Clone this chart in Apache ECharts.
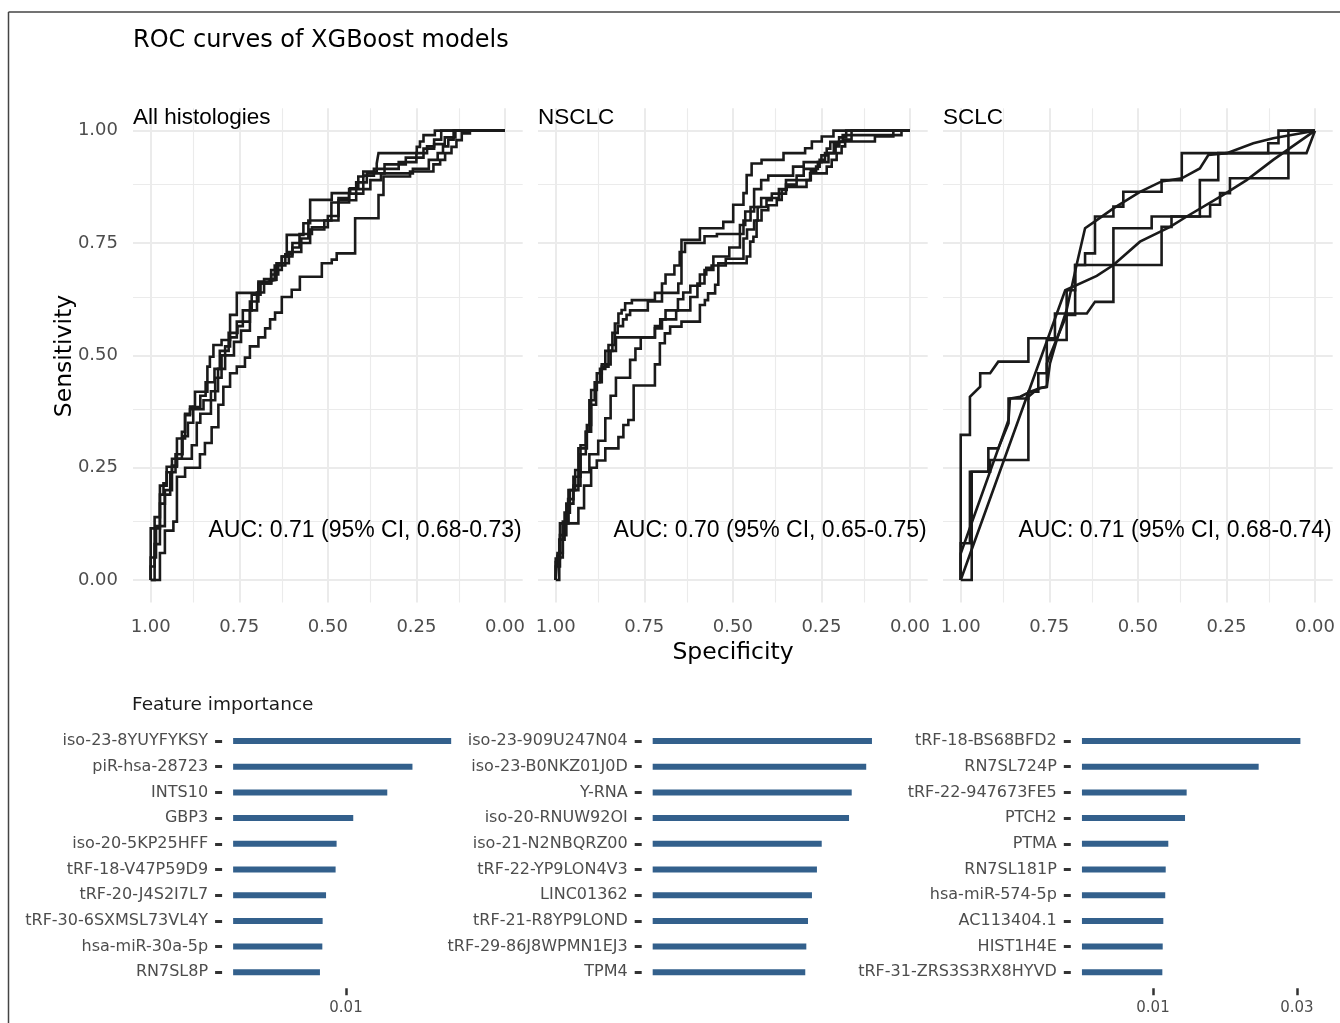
<!DOCTYPE html>
<html><head><meta charset="utf-8">
<script src="https://cdn.jsdelivr.net/npm/echarts@6/dist/echarts.min.js"></script>
<style>html,body{margin:0;padding:0;background:#fff}#c{width:1340px;height:1023px}</style>
</head><body><div id="c"></div>
<script>
// ---------------- DATA ----------------
// ROC axis ticks
const rocTickValues = [0, 0.25, 0.5, 0.75, 1];
const rocMinorValues = [0.125, 0.375, 0.625, 0.875];
const panelNames = ['All histologies', 'NSCLC', 'SCLC'];
const aucLabels = ['AUC: 0.71 (95% CI, 0.68-0.73)', 'AUC: 0.70 (95% CI, 0.65-0.75)', 'AUC: 0.71 (95% CI, 0.68-0.74)'];

// ROC curves: [specificity, sensitivity]
const allCurve1 = [[1,0],[1,.115],[.974,.115],[.974,.19],[.964,.19],[.964,.215],[.955,.215],[.955,.252],[.926,.252],[.926,.315],[.912,.315],[.912,.33],[.903,.33],[.903,.367],[.889,.367],[.889,.386],[.875,.386],[.875,.419],[.84,.419],[.84,.475],[.833,.475],[.833,.497],[.823,.497],[.823,.523],[.8,.523],[.8,.534],[.776,.534],[.776,.59],[.757,.59],[.757,.639],[.696,.639],[.696,.664],[.673,.664],[.673,.668],[.645,.668],[.645,.705],[.63,.705],[.63,.72],[.616,.72],[.616,.768],[.569,.768],[.569,.794],[.55,.794],[.55,.846],[.489,.846],[.489,.861],[.437,.861],[.437,.872],[.414,.872],[.414,.898],[.4,.898],[.4,.909],[.362,.909],[.362,.927],[.357,.927],[.357,.95],[.249,.95],[.249,.964],[.24,.964],[.24,.976],[.23,.976],[.23,.99],[.198,.99],[.198,1],[0,1]];
const allCurve2 = [[1,0],[1,.03],[.989,.03],[.989,.14],[.974,.14],[.974,.21],[.955,.21],[.955,.24],[.94,.24],[.94,.27],[.912,.27],[.912,.315],[.903,.315],[.903,.37],[.889,.37],[.889,.38],[.851,.38],[.851,.4],[.818,.4],[.818,.45],[.8,.45],[.8,.5],[.79,.5],[.79,.52],[.776,.52],[.776,.54],[.757,.54],[.757,.575],[.72,.575],[.72,.62],[.696,.62],[.696,.66],[.66,.66],[.66,.69],[.63,.69],[.63,.72],[.6,.72],[.6,.75],[.55,.75],[.55,.78],[.51,.78],[.51,.8],[.47,.8],[.47,.845],[.42,.845],[.42,.885],[.39,.885],[.39,.905],[.34,.905],[.34,.925],[.28,.925],[.28,.94],[.23,.94],[.23,.96],[.2,.96],[.2,.97],[.17,.97],[.17,.985],[.14,.985],[.14,1],[0,1]];
const allCurve3 = [[1,0],[.989,0],[.989,.08],[.974,.08],[.974,.17],[.96,.17],[.96,.2],[.94,.2],[.94,.255],[.926,.255],[.926,.27],[.884,.27],[.884,.3],[.87,.3],[.87,.35],[.86,.35],[.86,.37],[.83,.37],[.83,.42],[.81,.42],[.81,.47],[.79,.47],[.79,.5],[.765,.5],[.765,.53],[.745,.53],[.745,.555],[.72,.555],[.72,.6],[.7,.6],[.7,.64],[.68,.64],[.68,.67],[.65,.67],[.65,.7],[.62,.7],[.62,.725],[.6,.725],[.6,.74],[.58,.74],[.58,.77],[.545,.77],[.545,.785],[.5,.785],[.5,.81],[.47,.81],[.47,.85],[.44,.85],[.44,.87],[.38,.87],[.38,.89],[.35,.89],[.35,.905],[.26,.905],[.26,.915],[.215,.915],[.215,.935],[.19,.935],[.19,.95],[.175,.95],[.175,.965],[.16,.965],[.16,.98],[.145,.98],[.145,1],[0,1]];
const allCurve4 = [[1,0],[1,.05],[.985,.05],[.985,.12],[.96,.12],[.96,.19],[.945,.19],[.945,.24],[.93,.24],[.93,.28],[.91,.28],[.91,.32],[.895,.32],[.895,.35],[.88,.35],[.88,.385],[.86,.385],[.86,.41],[.845,.41],[.845,.44],[.82,.44],[.82,.47],[.805,.47],[.805,.51],[.78,.51],[.78,.55],[.755,.55],[.755,.565],[.74,.565],[.74,.6],[.715,.6],[.715,.635],[.69,.635],[.69,.66],[.66,.66],[.66,.68],[.64,.68],[.64,.705],[.61,.705],[.61,.73],[.575,.73],[.575,.76],[.555,.76],[.555,.8],[.49,.8],[.49,.84],[.44,.84],[.44,.86],[.4,.86],[.4,.9],[.37,.9],[.37,.915],[.3,.915],[.3,.93],[.25,.93],[.25,.95],[.22,.95],[.22,.965],[.2,.965],[.2,.98],[.18,.98],[.18,1],[0,1]];
const allCurve5 = [[1,0],[.974,0],[.974,.06],[.96,.06],[.96,.11],[.936,.11],[.936,.13],[.926,.13],[.926,.23],[.903,.23],[.903,.25],[.861,.25],[.861,.28],[.847,.28],[.847,.305],[.828,.305],[.828,.34],[.809,.34],[.809,.39],[.795,.39],[.795,.43],[.776,.43],[.776,.46],[.757,.46],[.757,.475],[.734,.475],[.734,.495],[.72,.495],[.72,.52],[.696,.52],[.696,.54],[.677,.54],[.677,.56],[.663,.56],[.663,.58],[.649,.58],[.649,.595],[.63,.595],[.63,.63],[.602,.63],[.602,.646],[.579,.646],[.579,.675],[.517,.675],[.517,.705],[.489,.705],[.489,.713],[.475,.713],[.475,.727],[.423,.727],[.423,.805],[.357,.805],[.357,.857],[.343,.857],[.343,.898],[.268,.898],[.268,.909],[.202,.909],[.202,.925],[.183,.925],[.183,.935],[.169,.935],[.169,.95],[.151,.95],[.151,.964],[.137,.964],[.137,.979],[.122,.979],[.122,.994],[.099,.994],[.099,1],[0,1]];

const nsclcCurve1 = [[1,0],[1,.048],[.988,.048],[.988,.126],[.964,.126],[.964,.2],[.936,.2],[.936,.293],[.912,.293],[.912,.345],[.9,.345],[.9,.423],[.884,.423],[.884,.46],[.87,.46],[.87,.475],[.851,.475],[.851,.523],[.833,.523],[.833,.571],[.823,.571],[.823,.593],[.814,.593],[.814,.601],[.804,.601],[.804,.616],[.785,.616],[.785,.623],[.72,.623],[.72,.639],[.654,.639],[.654,.66],[.645,.66],[.645,.757],[.593,.757],[.593,.783],[.527,.783],[.527,.797],[.499,.797],[.499,.835],[.47,.835],[.47,.861],[.461,.861],[.461,.901],[.447,.901],[.447,.927],[.419,.927],[.419,.935],[.357,.935],[.357,.95],[.296,.95],[.296,.961],[.277,.961],[.277,.976],[.249,.976],[.249,.987],[.216,.987],[.216,1],[0,1]];
const nsclcCurve2 = [[1,0],[1,.03],[.988,.03],[.988,.1],[.97,.1],[.97,.17],[.95,.17],[.95,.23],[.93,.23],[.93,.3],[.915,.3],[.915,.33],[.905,.33],[.905,.4],[.89,.4],[.89,.44],[.875,.44],[.875,.47],[.86,.47],[.86,.51],[.84,.51],[.84,.55],[.825,.55],[.825,.565],[.81,.565],[.81,.58],[.8,.58],[.8,.59],[.79,.59],[.79,.6],[.74,.6],[.74,.62],[.7,.62],[.7,.66],[.69,.66],[.69,.68],[.665,.68],[.665,.7],[.65,.7],[.65,.73],[.635,.73],[.635,.75],[.58,.75],[.58,.765],[.545,.765],[.545,.77],[.47,.77],[.47,.8],[.45,.8],[.45,.83],[.44,.83],[.44,.87],[.42,.87],[.42,.89],[.4,.89],[.4,.9],[.33,.9],[.33,.92],[.3,.92],[.3,.93],[.25,.93],[.25,.945],[.235,.945],[.235,.96],[.225,.96],[.225,.975],[.19,.975],[.19,.99],[.024,.99],[.024,1],[0,1]];
const nsclcCurve3 = [[1,0],[1,.04],[.99,.04],[.99,.09],[.975,.09],[.975,.15],[.96,.15],[.96,.2],[.945,.2],[.945,.245],[.93,.245],[.93,.28],[.915,.28],[.915,.33],[.9,.33],[.9,.39],[.886,.39],[.886,.44],[.87,.44],[.87,.48],[.845,.48],[.845,.51],[.83,.51],[.83,.54],[.72,.54],[.72,.565],[.705,.565],[.705,.58],[.69,.58],[.69,.6],[.655,.6],[.655,.625],[.64,.625],[.64,.64],[.62,.64],[.62,.655],[.593,.655],[.593,.68],[.575,.68],[.575,.695],[.56,.695],[.56,.7],[.52,.7],[.52,.715],[.47,.715],[.47,.76],[.46,.76],[.46,.78],[.44,.78],[.44,.8],[.43,.8],[.43,.83],[.42,.83],[.42,.85],[.37,.85],[.37,.87],[.35,.87],[.35,.89],[.28,.89],[.28,.91],[.265,.91],[.265,.92],[.255,.92],[.255,.935],[.24,.935],[.24,.95],[.21,.95],[.21,.965],[.2,.965],[.2,.976],[.099,.976],[.099,.987],[.047,.987],[.047,1],[0,1]];
const nsclcCurve4 = [[1,0],[.995,0],[.995,.06],[.98,.06],[.98,.13],[.965,.13],[.965,.18],[.95,.18],[.95,.21],[.93,.21],[.93,.24],[.905,.24],[.905,.28],[.88,.28],[.88,.31],[.86,.31],[.86,.36],[.845,.36],[.845,.41],[.83,.41],[.83,.45],[.79,.45],[.79,.49],[.775,.49],[.775,.515],[.76,.515],[.76,.54],[.72,.54],[.72,.56],[.7,.56],[.7,.58],[.66,.58],[.66,.6],[.62,.6],[.62,.63],[.6,.63],[.6,.66],[.58,.66],[.58,.69],[.555,.69],[.555,.72],[.51,.72],[.51,.74],[.48,.74],[.48,.79],[.465,.79],[.465,.82],[.44,.82],[.44,.83],[.405,.83],[.405,.845],[.39,.845],[.39,.86],[.35,.86],[.35,.88],[.32,.88],[.32,.9],[.3,.9],[.3,.915],[.26,.915],[.26,.93],[.23,.93],[.23,.95],[.215,.95],[.215,.97],[.2,.97],[.2,.985],[.18,.985],[.18,1],[0,1]];
const nsclcCurve5 = [[1,0],[.99,0],[.99,.05],[.98,.05],[.98,.126],[.936,.126],[.936,.16],[.92,.16],[.92,.21],[.9,.21],[.9,.25],[.884,.25],[.884,.266],[.86,.266],[.86,.293],[.823,.293],[.823,.318],[.809,.318],[.809,.345],[.795,.345],[.795,.356],[.78,.356],[.78,.433],[.72,.433],[.72,.48],[.706,.48],[.706,.527],[.692,.527],[.692,.549],[.677,.549],[.677,.564],[.645,.564],[.645,.575],[.593,.575],[.593,.612],[.579,.612],[.579,.623],[.57,.623],[.57,.638],[.55,.638],[.55,.657],[.541,.657],[.541,.705],[.461,.705],[.461,.72],[.451,.72],[.451,.753],[.442,.753],[.442,.764],[.433,.764],[.433,.8],[.419,.8],[.419,.823],[.4,.823],[.4,.834],[.376,.834],[.376,.846],[.362,.846],[.362,.868],[.348,.868],[.348,.875],[.292,.875],[.292,.89],[.282,.89],[.282,.905],[.235,.905],[.235,.92],[.221,.92],[.221,.935],[.207,.935],[.207,.95],[.193,.95],[.193,.965],[.183,.965],[.183,.98],[.165,.98],[.165,1],[0,1]];

const sclcCurve1 = [[1,0],[1,.323],[.974,.323],[.974,.408],[.945,.43],[.945,.46],[.917,.46],[.894,.486],[.809,.486],[.809,.538],[.734,.538],[.734,.593],[.644,.593],[.621,.619],[.569,.619],[.569,.783],[.461,.783],[.461,.809],[.296,.809],[.296,.835],[.268,.835],[.268,.861],[.24,.861],[.24,.894],[.075,.894],[.075,1],[0,1]];
const sclcCurve2 = [[1,0],[.969,0],[.969,.241],[.917,.241],[.917,.267],[.809,.267],[.809,.408],[.781,.427],[.757,.43],[.757,.482],[.734,.527],[.701,.59],[.677,.59],[.677,.701],[.649,.701],[.649,.727],[.621,.727],[.621,.809],[.569,.809],[.569,.831],[.541,.831],[.541,.864],[.433,.864],[.433,.89],[.376,.89],[.376,.95],[.132,.95],[.132,.972],[.103,.972],[.103,1],[0,1]];
const sclcCurve3 = [[1,0],[1,.059],[.865,.356],[.861,.404],[.832,.408],[.804,.419],[.776,.427],[.757,.43],[.748,.482],[.729,.534],[.701,.601],[.673,.701],[.649,.783],[.616,.801],[.569,.827],[.494,.864],[.433,.887],[.376,.894],[.325,.916],[.301,.946],[.249,.95],[.174,.972],[.118,.983],[0,1]];
const sclcCurve4 = [[1,0],[.705,.645],[.616,.677],[.569,.701],[.494,.753],[.409,.786],[.362,.809],[.259,.857],[.193,.89],[.118,.935],[0,1]];
const sclcCurve5 = [[1,0],[1,.082],[.974,.082],[.974,.241],[.922,.241],[.922,.293],[.894,.293],[.865,.349],[.865,.404],[.809,.404],[.809,.419],[.781,.419],[.781,.46],[.757,.46],[.757,.534],[.701,.534],[.701,.645],[.677,.645],[.677,.701],[.433,.701],[.433,.786],[.405,.786],[.405,.809],[.325,.809],[.325,.89],[.273,.89],[.273,.95],[.024,.95],[0,1]];

// Feature importance
const featAllNames = ['iso-23-8YUYFYKSY','piR-hsa-28723','INTS10','GBP3','iso-20-5KP25HFF','tRF-18-V47P59D9','tRF-20-J4S2I7L7','tRF-30-6SXMSL73VL4Y','hsa-miR-30a-5p','RN7SL8P'];
const featAllValues = [0.0223,0.0166,0.0137,0.01057,0.00931,0.00924,0.00859,0.00837,0.00835,0.0082];
const featNsclcNames = ['iso-23-909U247N04','iso-23-B0NKZ01J0D','Y-RNA','iso-20-RNUW92OI','iso-21-N2NBQRZ00','tRF-22-YP9LON4V3','LINC01362','tRF-21-R8YP9LOND','tRF-29-86J8WPMN1EJ3','TPM4'];
const featNsclcValues = [0.02836,0.02764,0.0259,0.02559,0.02264,0.02216,0.02167,0.02129,0.02113,0.02103];
const featSclcNames = ['tRF-18-BS68BFD2','RN7SL724P','tRF-22-947673FE5','PTCH2','PTMA','RN7SL181P','hsa-miR-574-5p','AC113404.1','HIST1H4E','tRF-31-ZRS3S3RX8HYVD'];
const featSclcValues = [0.0308,0.0224,0.01293,0.01277,0.01124,0.01102,0.01098,0.01082,0.01077,0.01074];
const importanceTicks = [0.01, 0.03];

// ---------------- LAYOUT / CONFIG ----------------
const rocCurves = [
  [allCurve1, allCurve2, allCurve3, allCurve4, allCurve5],
  [nsclcCurve1, nsclcCurve2, nsclcCurve3, nsclcCurve4, nsclcCurve5],
  [sclcCurve1, sclcCurve2, sclcCurve3, sclcCurve4, sclcCurve5]
];
const rocLefts = [133, 538, 943];
const rocW = 389.7, rocTop = 108.2, rocH = 494.3;

const barPanels = [
  {names: featAllNames, values: featAllValues, left: 222.1, width: 239.8, min: 0.003889, max: 0.0242, base: 0.00423},
  {names: featNsclcNames, values: featNsclcValues, left: 641.7, width: 241.3, min: 0.0101, max: 0.0298, base: 0.01061},
  {names: featSclcNames, values: featSclcValues, left: 1070.8, width: 240.1, min: 0.005341, max: 0.03337, base: 0.005815}
];
const barTop = 728.15, barH = 257;

const FD = 'DejaVu Sans';
const FL = 'Liberation Sans';
const grids = [], xAxes = [], yAxes = [], series = [], graphics = [];

rocLefts.forEach((left, i) => {
  grids.push({left: left, top: rocTop, width: rocW, height: rocH, containLabel: false, outerBoundsMode: 'none'});
  xAxes.push({gridIndex: i, type: 'value', min: -0.05, max: 1.05, inverse: true,
    axisLine: {show: false}, axisTick: {show: false}, splitLine: {show: false},
    axisLabel: {customValues: rocTickValues, formatter: v => (+v).toFixed(2), fontSize: 18, color: '#4d4d4d', fontFamily: FD, margin: 16}});
  yAxes.push({gridIndex: i, type: 'value', min: -0.05, max: 1.05,
    axisLine: {show: false}, axisTick: {show: false}, splitLine: {show: false},
    axisLabel: {show: i === 0, customValues: rocTickValues, formatter: v => (+v).toFixed(2), fontSize: 18, color: '#4d4d4d', fontFamily: FD, margin: 15, padding: [5, 0, 0, 0]}});
  const ml = [];
  rocTickValues.forEach(v => { ml.push({xAxis: v}); ml.push({yAxis: v}); });
  rocMinorValues.forEach(v => { ml.push({xAxis: v, lineStyle: {width: 1.1}}); ml.push({yAxis: v, lineStyle: {width: 1.1}}); });
  series.push({type: 'line', xAxisIndex: i, yAxisIndex: i, data: [], z: 1, silent: true, animation: false,
    markLine: {z: 1, silent: true, animation: false, symbol: ['none', 'none'], label: {show: false},
      lineStyle: {color: '#ebebeb', type: 'solid', width: 2}, emphasis: {disabled: true}, data: ml}});
  rocCurves[i].forEach(curve => {
    series.push({type: 'line', xAxisIndex: i, yAxisIndex: i, data: curve, showSymbol: false, symbol: 'none',
      silent: true, animation: false, z: 6, lineStyle: {color: '#1a1a1a', width: 2.6, join: 'miter'}});
  });
  graphics.push({type: 'text', x: left, y: 118, z: 10, style: {text: panelNames[i], font: '22.5px "' + FL + '"', fill: '#000', align: 'left', verticalAlign: 'middle', textAlign: 'left', textVerticalAlign: 'middle'}});
  graphics.push({type: 'text', x: left + rocW - 1, y: 531, z: 10, style: {text: aucLabels[i], font: '23px "' + FL + '"', fill: '#000', align: 'right', verticalAlign: 'middle', textAlign: 'right', textVerticalAlign: 'middle'}});
});

barPanels.forEach((p, j) => {
  const gi = 3 + j;
  grids.push({left: p.left, top: barTop, width: p.width, height: barH, containLabel: false, outerBoundsMode: 'none'});
  xAxes.push({gridIndex: gi, type: 'log', logBase: 10, min: p.min, max: p.max, offset: 3,
    axisLine: {show: false}, splitLine: {show: false}, minorTick: {show: false},
    axisTick: {show: j !== 1, customValues: importanceTicks, length: 7, lineStyle: {color: '#333', width: 2.5}},
    axisLabel: {show: j !== 1, customValues: importanceTicks, formatter: v => (+v).toFixed(2), fontSize: 15, color: '#4d4d4d', fontFamily: FD, margin: 12}});
  yAxes.push({gridIndex: gi, type: 'category', data: p.names, inverse: true,
    axisLine: {show: false}, splitLine: {show: false},
    axisTick: {show: true, alignWithLabel: true, length: 7, lineStyle: {color: '#333', width: 3}},
    axisLabel: {fontSize: 16, color: '#4d4d4d', fontFamily: FD, margin: 14, padding: [2, 0, 0, 0]}});
  const base = p.base;
  series.push({type: 'custom', xAxisIndex: gi, yAxisIndex: gi, silent: true, animation: false, z: 2,
    data: p.values.map((v, k) => [v, k]), encode: {x: 0, y: 1},
    renderItem: (params, api) => {
      const cat = api.value(1);
      const s = api.coord([base, cat]);
      const e = api.coord([api.value(0), cat]);
      const h = 6;
      return {type: 'rect', shape: {x: s[0], y: s[1] - h / 2, width: e[0] - s[0], height: h}, style: {fill: '#33608C'}};
    }});
});

graphics.push({type: 'text', x: 133, y: 41, style: {text: 'ROC curves of XGBoost models', font: '24px "' + FD + '"', fill: '#000', align: 'left', verticalAlign: 'middle', textAlign: 'left', textVerticalAlign: 'middle'}});
graphics.push({type: 'text', x: 65, y: 356, rotation: Math.PI / 2, style: {text: 'Sensitivity', font: '23.5px "' + FD + '"', fill: '#000', align: 'center', verticalAlign: 'middle', textAlign: 'center', textVerticalAlign: 'middle'}});
graphics.push({type: 'text', x: 733, y: 653, style: {text: 'Specificity', font: '23.5px "' + FD + '"', fill: '#000', align: 'center', verticalAlign: 'middle', textAlign: 'center', textVerticalAlign: 'middle'}});
graphics.push({type: 'text', x: 132, y: 705, style: {text: 'Feature importance', font: '18.5px "' + FD + '"', fill: '#1a1a1a', align: 'left', verticalAlign: 'middle', textAlign: 'left', textVerticalAlign: 'middle'}});
graphics.push({type: 'line', shape: {x1: 8.5, y1: 12, x2: 8.5, y2: 1023}, style: {stroke: '#444', lineWidth: 1.5}});
graphics.push({type: 'line', shape: {x1: 8.5, y1: 12, x2: 1340, y2: 12}, style: {stroke: '#444', lineWidth: 1.5}});

const chart = echarts.init(document.getElementById('c'), null, {renderer: 'canvas'});
chart.setOption({
  backgroundColor: '#fff',
  animation: false,
  grid: grids, xAxis: xAxes, yAxis: yAxes, series: series, graphic: graphics
});
</script></body></html>
